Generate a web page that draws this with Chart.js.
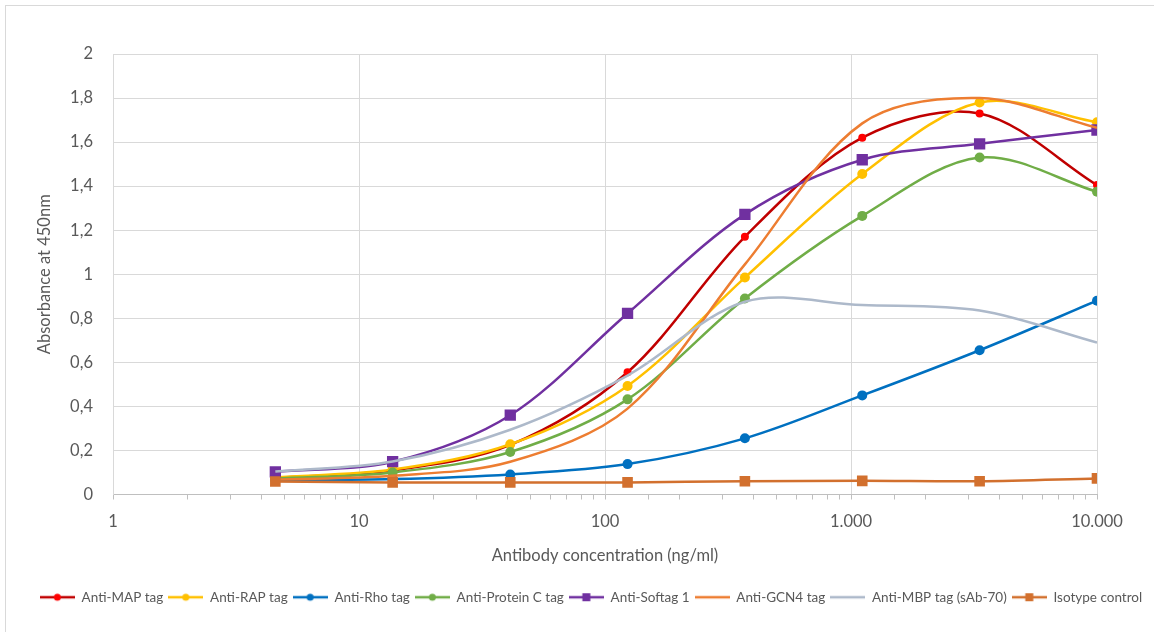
<!DOCTYPE html>
<html>
<head>
<meta charset="utf-8">
<script src="https://cdn.jsdelivr.net/npm/chart.js@4.4.0/dist/chart.umd.min.js"></script>
<style>
  html, body { margin: 0; padding: 0; background: #fff; }
  #wrap { width: 1154px; height: 632px; }
</style>
</head>
<body>
<div id="wrap"><canvas id="grafico" width="1154" height="632"></canvas></div>
<script>
// concentraciones (ng/ml), diluciones 1:3 desde 10.000
const dilutions = [4.57, 13.7, 41.2, 123.5, 370.4, 1111, 3333, 10000];

const antiMAP      = [0.075, 0.11, 0.225, 0.555, 1.17, 1.62, 1.73, 1.405];
const antiRAP      = [0.078, 0.113, 0.228, 0.493, 0.985, 1.455, 1.78, 1.69];
const antiRho      = [0.065, 0.07, 0.091, 0.138, 0.255, 0.45, 0.655, 0.88];
const antiProteinC = [0.072, 0.10, 0.193, 0.432, 0.89, 1.265, 1.53, 1.375];
const antiSoftag   = [0.103, 0.149, 0.36, 0.822, 1.272, 1.52, 1.592, 1.655];
const antiGCN4     = [0.068, 0.085, 0.149, 0.39, 1.045, 1.685, 1.80, 1.665];
const antiMBP      = [0.104, 0.15, 0.294, 0.54, 0.875, 0.86, 0.835, 0.69];
const isotype      = [0.059, 0.055, 0.055, 0.055, 0.06, 0.062, 0.06, 0.073];

const seriesNames = ['Anti-MAP tag', 'Anti-RAP tag', 'Anti-Rho tag', 'Anti-Protein C tag',
  'Anti-Softag 1', 'Anti-GCN4 tag', 'Anti-MBP tag (sAb-70)', 'Isotype control'];
const seriesValues = [antiMAP, antiRAP, antiRho, antiProteinC, antiSoftag, antiGCN4, antiMBP, isotype];

// estilo de cada serie: linea, marcador, tamaño
const estilos = [
  { line: '#C00000', point: '#FF0000', style: 'circle', r: 4 },
  { line: '#FFC000', point: '#FFC000', style: 'circle', r: 5 },
  { line: '#0070C0', point: '#0070C0', style: 'circle', r: 5 },
  { line: '#70AD47', point: '#70AD47', style: 'circle', r: 5 },
  { line: '#7030A0', point: '#7030A0', style: 'rect', r: 8 },
  { line: '#ED7D31', point: '#ED7D31', style: 'dash', r: 0 },
  { line: '#ADB9CA', point: '#ADB9CA', style: 'dash', r: 0 },
  { line: '#D2702E', point: '#D2702E', style: 'rect', r: 7.5 }
];

const anchoSimbolo = 35;

function simboloLeyenda(e) {
  const c = document.createElement('canvas');
  c.width = anchoSimbolo; c.height = 14;
  const g = c.getContext('2d');
  const m = anchoSimbolo / 2;
  g.strokeStyle = e.line;
  g.lineWidth = 2.5;
  g.beginPath(); g.moveTo(0, 7); g.lineTo(anchoSimbolo, 7); g.stroke();
  g.fillStyle = e.point;
  if (e.style === 'circle' && e.r > 0) {
    g.beginPath(); g.arc(m, 7, 3.5, 0, Math.PI * 2); g.fill();
  } else if (e.style === 'rect') {
    g.fillRect(m - 4, 3, 8, 8);
  }
  return c;
}

const datasets = seriesNames.map((name, i) => ({
  label: name,
  data: dilutions.map((x, j) => ({ x: x, y: seriesValues[i][j] })),
  borderColor: estilos[i].line,
  backgroundColor: estilos[i].point,
  pointBackgroundColor: estilos[i].point,
  pointBorderColor: estilos[i].point,
  pointBorderWidth: 0,
  pointStyle: estilos[i].style,
  pointRadius: estilos[i].r,
  pointHoverRadius: estilos[i].r,
  borderWidth: 2.5,
  tension: 0.33,
  fill: false,
  yAxisID: 'y',
  order: seriesNames.length - i
}));

const esPotencia10 = v => Math.abs(Math.log10(v) - Math.round(Math.log10(v))) < 1e-9;

const marco = {
  id: 'marco',
  beforeDraw(chart) {
    const g = chart.ctx;
    g.save();
    g.fillStyle = '#fff';
    g.fillRect(0, 0, chart.width, chart.height);
    g.strokeStyle = '#d9d9d9';
    g.lineWidth = 1;
    g.strokeRect(5.5, 5.5, chart.width + 20, chart.height + 20);
    g.restore();
  }
};

Chart.defaults.font.family = 'Lato, "Open Sans", sans-serif';
Chart.defaults.color = '#595959';

new Chart(document.getElementById('grafico').getContext('2d'), {
  type: 'line',
  data: { datasets: datasets },
  plugins: [marco],
  options: {
    responsive: false,
    animation: false,
    layout: { padding: { left: 28, right: 0, top: 54, bottom: 18 } },
    scales: {
      x: {
        type: 'logarithmic',
        min: 1,
        max: 10000,
        afterFit: s => { s.height = 91; },
        grid: {
          color: c => (c.tick && esPotencia10(c.tick.value)) ? '#d9d9d9' : 'rgba(0,0,0,0)',
          tickColor: '#bfbfbf',
          tickLength: 5,
          lineWidth: 1
        },
        border: { color: '#bfbfbf', width: 1 },
        ticks: {
          autoSkip: false,
          maxRotation: 0,
          padding: 12,
          font: { size: 16.5 },
          callback: v => esPotencia10(v) ? Math.round(v).toLocaleString('de-DE') : ''
        },
        title: {
          display: true,
          text: 'Antibody concentration (ng/ml)',
          font: { size: 16.5 },
          padding: { top: 4, bottom: 20 }
        }
      },
      y: {
        min: 0,
        max: 2,
        afterFit: s => { s.width = 85; },
        grid: { color: '#d9d9d9', drawTicks: false },
        border: { color: '#d9d9d9' },
        ticks: {
          stepSize: 0.2,
          padding: 20,
          font: { size: 16.5 },
          callback: v => String(Number(v.toFixed(1))).replace('.', ',')
        },
        title: {
          display: true,
          text: 'Absorbance at 450nm',
          font: { size: 16.5 },
          padding: { top: 7, bottom: 4 }
        }
      },
      // eje vacio a la derecha, solo para reservar el margen
      margen: {
        position: 'right',
        afterFit: s => { s.width = 57; },
        grid: { display: false },
        border: { display: false },
        ticks: { display: false }
      }
    },
    plugins: {
      tooltip: { enabled: false },
      legend: {
        position: 'bottom',
        labels: {
          usePointStyle: true,
          pointStyleWidth: anchoSimbolo,
          boxHeight: 14,
          padding: 5,
          font: { size: 13.5 },
          color: '#595959',
          sort: (a, b) => a.datasetIndex - b.datasetIndex,
          generateLabels: chart => chart.data.datasets.map((ds, i) => ({
            text: ds.label,
            pointStyle: simboloLeyenda(estilos[i]),
            fillStyle: ds.borderColor,
            strokeStyle: ds.borderColor,
            lineWidth: 0,
            hidden: false,
            datasetIndex: i,
            fontColor: '#595959'
          }))
        }
      }
    }
  }
});
</script>
</body>
</html>
